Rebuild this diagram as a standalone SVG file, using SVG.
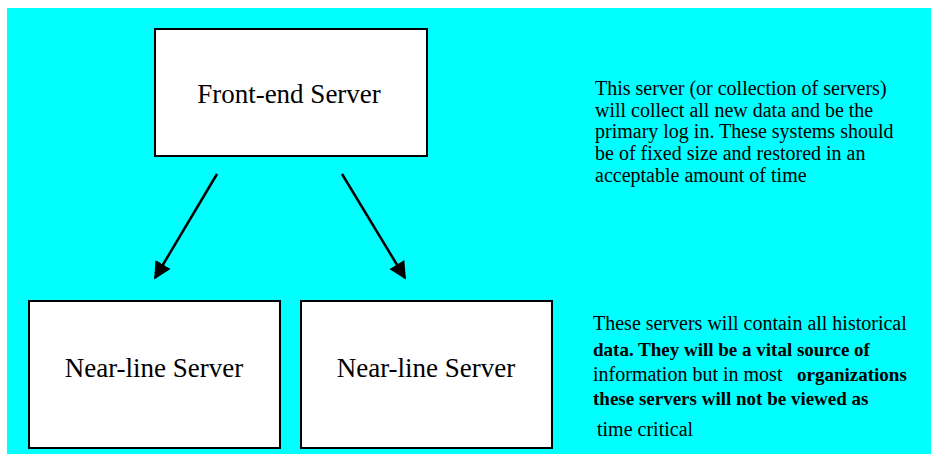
<svg xmlns="http://www.w3.org/2000/svg" width="931" height="454" viewBox="0 0 931 454">
  <style>
    .box { fill: #ffffff; stroke: #000000; stroke-width: 2; }
    .lbl { font-family: "Liberation Serif", "Times New Roman", serif; font-size: 27px; fill: #000; text-anchor: middle; }
    .note { font-family: "Liberation Serif", "Times New Roman", serif; font-size: 20px; fill: #000; }
    .b { font-weight: bold; font-size: 19px; }
    .conn { stroke: #000; stroke-width: 2.5; fill: none; }
  </style>
  <defs>
    <marker id="arrow" viewBox="0 0 10 10" refX="9" refY="5" markerWidth="7" markerHeight="7" markerUnits="strokeWidth" orient="auto">
      <path d="M0,0 L10,5 L0,10 Z" fill="#000"/>
    </marker>
  </defs>
  <rect x="7" y="8" width="924" height="446" fill="#00ffff"/>

  <g id="front-end">
    <rect class="box" x="155" y="29" width="272" height="127"/>
    <text class="lbl" x="289" y="103">Front-end Server</text>
  </g>
  <g id="near-line-1">
    <rect class="box" x="29" y="301" width="251" height="147"/>
    <text class="lbl" x="154" y="377">Near-line Server</text>
  </g>
  <g id="near-line-2">
    <rect class="box" x="301" y="301" width="251" height="147"/>
    <text class="lbl" x="426" y="377">Near-line Server</text>
  </g>

  <g id="connectors">
    <line class="conn" x1="217" y1="174" x2="155" y2="278" marker-end="url(#arrow)"/>
    <line class="conn" x1="342" y1="174" x2="405" y2="278" marker-end="url(#arrow)"/>
  </g>

  <g id="note-front">
    <text class="note" x="595" y="95">This server (or collection of servers)</text>
    <text class="note" x="595" y="117">will collect all new data and be the</text>
    <text class="note" x="595" y="138">primary log in. These systems should</text>
    <text class="note" x="595" y="160">be of fixed size and restored in an</text>
    <text class="note" x="595" y="182">acceptable amount of time</text>
  </g>
  <g id="note-near">
    <text class="note" x="593" y="330">These servers will contain all historical</text>
    <text class="note b" x="593" y="356">data. They will be a vital source of</text>
    <text class="note" x="593" y="381">information but in most</text>
    <text class="note b" x="797" y="381">organizations</text>
    <text class="note b" x="593" y="405">these servers will not be viewed as</text>
    <text class="note" x="597" y="436">time critical</text>
  </g>
</svg>
